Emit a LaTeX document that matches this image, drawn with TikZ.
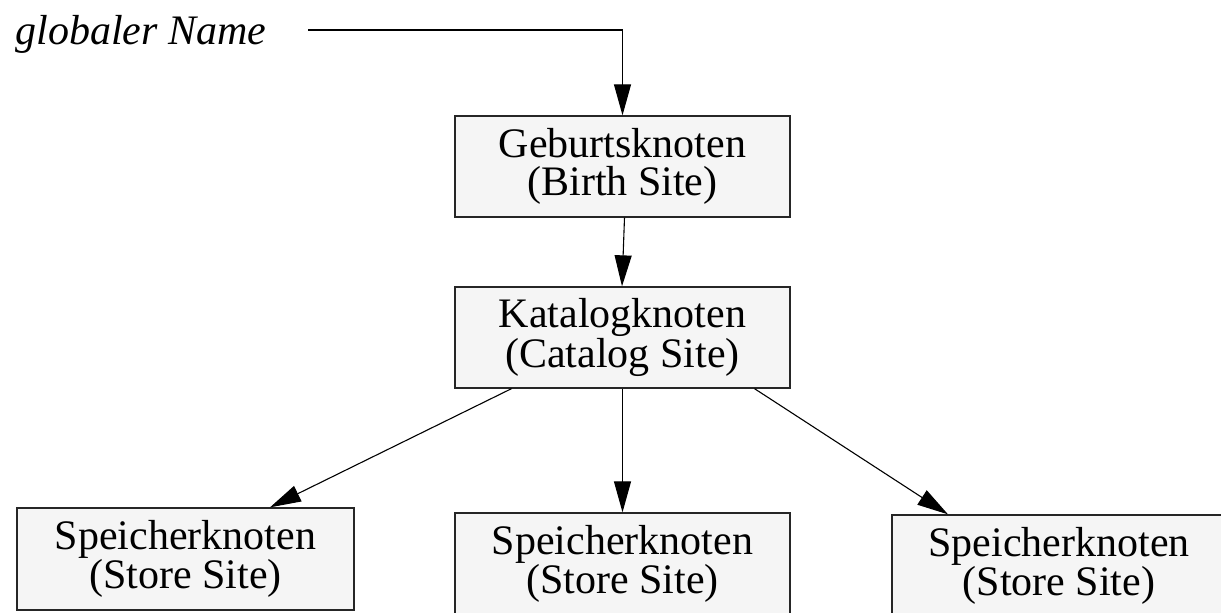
\documentclass[tikz,border=0pt]{standalone}
\usepackage{fontspec}
\setmainfont{Liberation Serif}
\usetikzlibrary{arrows.meta}
\definecolor{boxfill}{HTML}{F5F5F5}
\begin{document}
\begin{tikzpicture}[x=1pt,y=-1pt,
  site/.style={draw=black!85, line width=1.3pt, fill=boxfill, inner sep=0pt,
    align=center, font=\fontsize{42}{38}\selectfont, minimum height=102pt},
  link/.style={line width=1.1pt, -{Triangle[length=31pt,width=17pt]}}]
\useasboundingbox (0,0) rectangle (1221,613);

% name entering the system
\node[anchor=base west, font=\fontsize{42}{38}\selectfont\itshape] (gname) at (12,44) {globaler Name};
\coordinate (gstart) at (308,30);

% sites
\node[site, minimum width=335pt, minimum height=101pt] (birth) at (622.5,166.5) {Geburtsknoten\\(Birth Site)};
\node[site, minimum width=335pt, minimum height=101pt] (catalog) at (622.5,337.5) {Katalogknoten\\(Catalog Site)};
\node[site, minimum width=337pt] (store1) at (185.5,559) {Speicherknoten\\(Store Site)};
\node[site, minimum width=335pt] (store2) at (622.5,564) {Speicherknoten\\(Store Site)};
\node[site, minimum width=334pt] (store3) at (1059,566) {Speicherknoten\\(Store Site)};

% connectors
\draw[link] (gstart) -| (birth.north);
\draw[link] ([xshift=2pt]birth.south) -- ([xshift=-0.5pt]catalog.north);
\draw[link] ([xshift=-111pt]catalog.south) -- ([xshift=84.5pt]store1.north);
\draw[link] (catalog.south) -- (store2.north);
\draw[link] ([xshift=132pt]catalog.south) -- ([xshift=-111pt]store3.north);
\end{tikzpicture}
\end{document}
